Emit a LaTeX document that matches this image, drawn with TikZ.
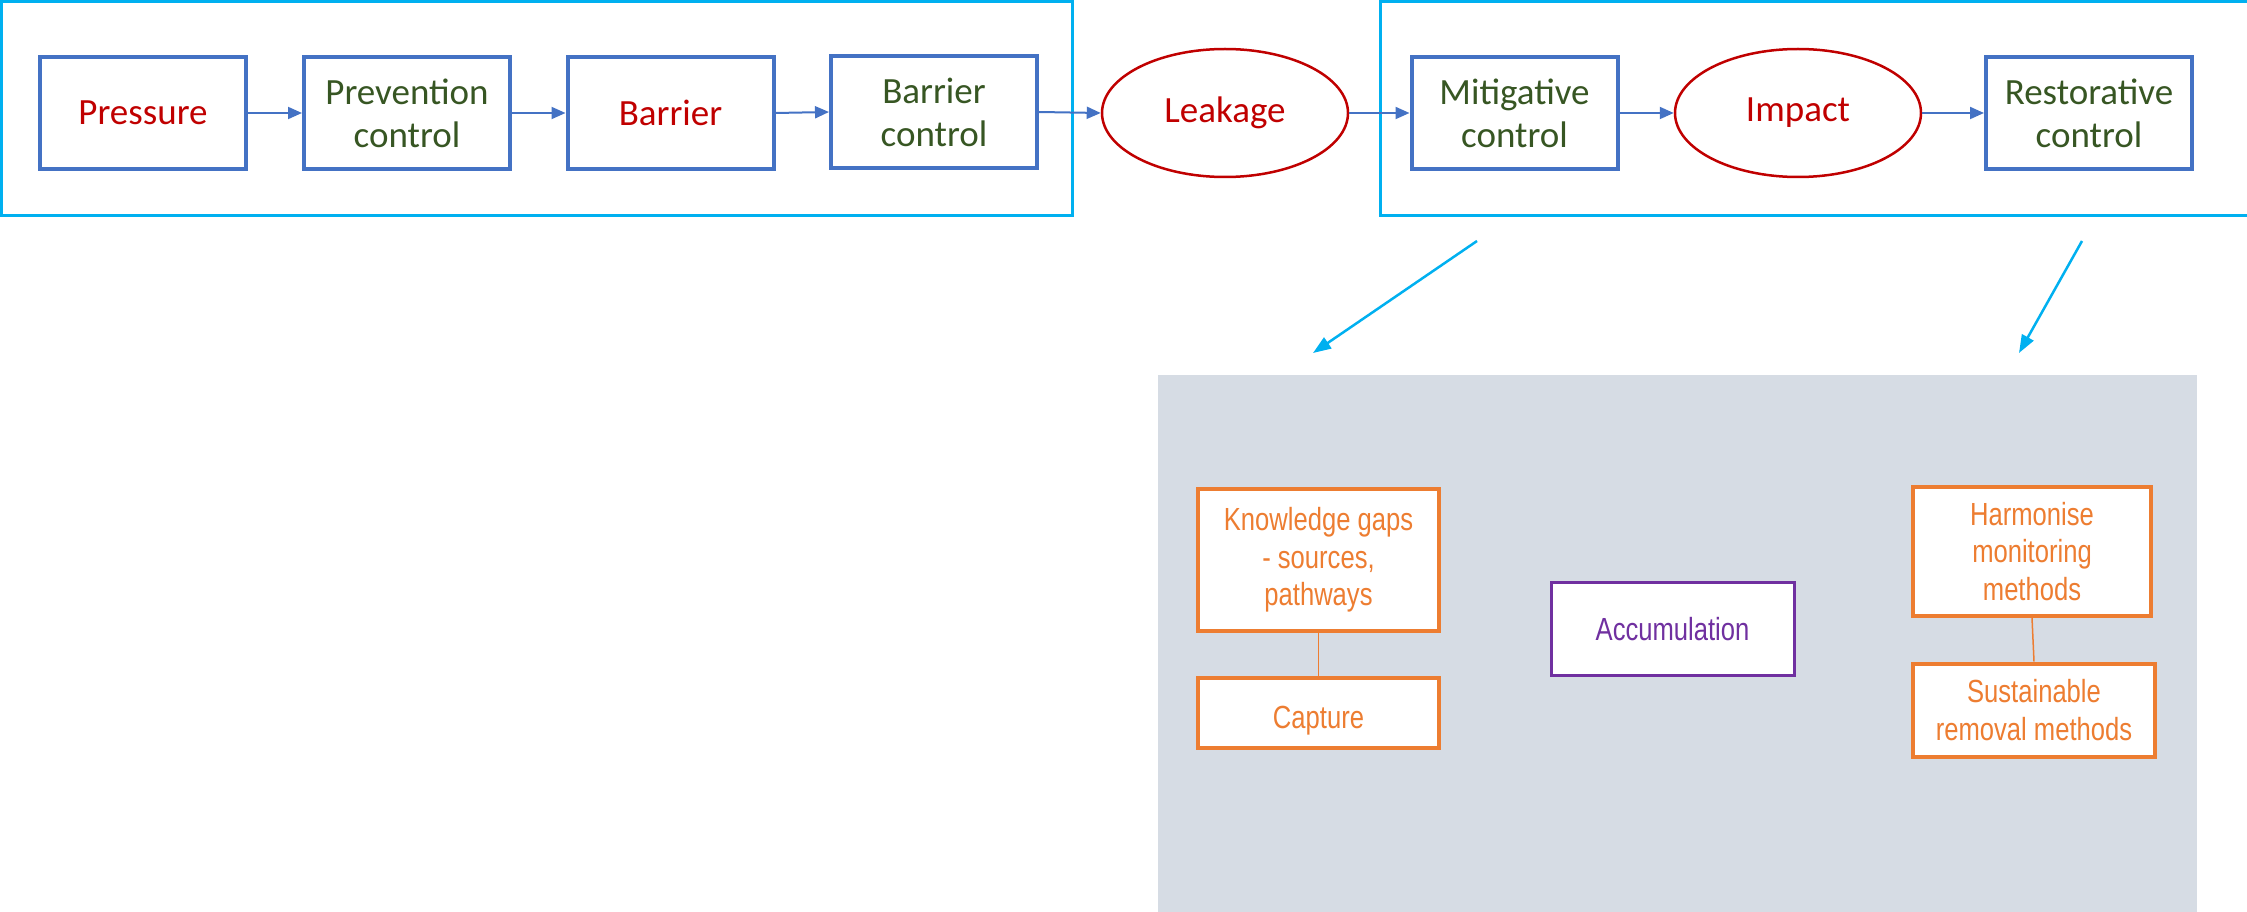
\documentclass[tikz,border=0pt]{standalone}
\usepackage{fontspec}
\setmainfont{Carlito}
\newfontfamily\narrowfont[FakeStretch=0.8]{Liberation Sans}
\usetikzlibrary{arrows.meta,shapes.geometric}
\definecolor{boxblue}{HTML}{4472C4}
\definecolor{frameblue}{HTML}{00B0F0}
\definecolor{darkred}{HTML}{C00000}
\definecolor{darkgreen}{HTML}{375623}
\definecolor{orangec}{HTML}{ED7D31}
\definecolor{purplec}{HTML}{7030A0}
\definecolor{panelgray}{HTML}{D6DCE4}
\tikzset{
  bluebox/.style={draw=boxblue, line width=4pt, fill=white, minimum width=206pt, minimum height=112pt, inner sep=0pt, align=center, font=\fontsize{37}{43}\selectfont},
  redell/.style={draw=darkred, line width=2.5pt, ellipse, fill=white, minimum width=246pt, minimum height=128pt, inner sep=0pt, font=\fontsize{37}{43}\selectfont, text=darkred},
  framebox/.style={draw=frameblue, line width=3pt},
  flow/.style={draw=boxblue, line width=2pt, -{Triangle[length=14pt,width=12pt]}},
  cyanarrow/.style={draw=frameblue, line width=2.5pt, -{Triangle[length=18pt,width=13pt]}},
  orbox/.style={draw=orangec, line width=4pt, fill=white, inner sep=0pt, align=center, text=orangec, font=\narrowfont\fontsize{32}{37.5}\selectfont},
  link/.style={draw=orangec, line width=1.5pt}
}
\begin{document}
\begin{tikzpicture}[x=1pt,y=-1pt]
\useasboundingbox (0,0) rectangle (2247,912);
% frames
\node[framebox, minimum width=1071pt, minimum height=214pt, inner sep=0pt] (leftframe) at (536.5,108.5) {};
\draw[framebox] (2250,1.5) -- (1380,1.5) -- (1380,216) -- (2250,216);
% top row
\node[bluebox, text=darkred] (pressure) at (143,113) {Pressure};
\node[bluebox, text=darkgreen] (prevention) at (407,113) {Prevention\\control};
\node[bluebox, text=darkred] (barrier) at (670.5,113) {Barrier};
\node[bluebox, text=darkgreen] (barriercontrol) at (934,112) {Barrier\\control};
\node[redell] (leakage) at (1225,113) {Leakage};
\node[bluebox, text=darkgreen] (mitigative) at (1514.5,113) {Mitigative\\control};
\node[redell] (impact) at (1798,113) {Impact};
\node[bluebox, text=darkgreen] (restorative) at (2089,113) {Restorative\\control};
\draw[flow] (pressure) -- (prevention);
\draw[flow] (prevention) -- (barrier);
\draw[flow] (barrier.east) -- (barriercontrol.west);
\draw[flow] (barriercontrol.east) -- (leakage.west);
\draw[flow] (leakage) -- (mitigative);
\draw[flow] (mitigative) -- (impact);
\draw[flow] (impact) -- (restorative);
% cyan arrows
\coordinate (a1s) at (1477,241);
\coordinate (a1e) at (1313,353);
\coordinate (a2s) at (2082,241);
\coordinate (a2e) at (2019,353);
\draw[cyanarrow] (a1s) -- (a1e);
\draw[cyanarrow] (a2s) -- (a2e);
% panel
\fill[panelgray] (1158,375) rectangle (2197,912);
\node[orbox, minimum width=241pt, minimum height=142pt] (knowledge) at (1318.5,560) {Knowledge gaps\\- sources,\\pathways};
\node[orbox, minimum width=241pt, minimum height=70pt] (capture) at (1318.5,713) {\raisebox{0pt}[30pt][0pt]{Capture}};
\node[orbox, draw=purplec, line width=3pt, text=purplec, minimum width=243pt, minimum height=93pt] (accum) at (1672.5,628.5) {\raisebox{0pt}[28pt][5pt]{Accumulation}};
\node[orbox, minimum width=238pt, minimum height=129pt] (harmonise) at (2032,551.5) {Harmonise\\monitoring\\methods};
\node[orbox, minimum width=242pt, minimum height=93pt] (sustainable) at (2034,710) {Sustainable\\removal methods};
\draw[link] (knowledge) -- (capture);
\draw[link] (harmonise.south) -- (sustainable.north);
\end{tikzpicture}
\end{document}
